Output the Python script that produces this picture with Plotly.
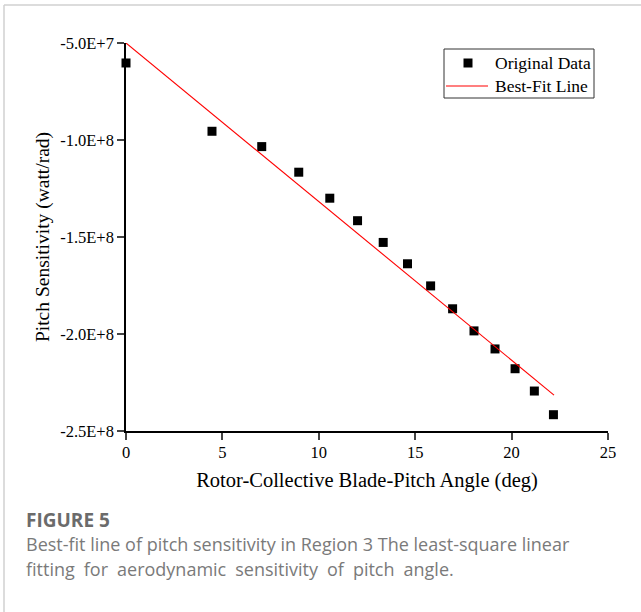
import plotly.graph_objects as go

# Data
pitch_deg = [0.0, 4.46, 7.04, 8.96, 10.57, 12.01, 13.34, 14.6, 15.8, 16.94, 18.05, 19.14, 20.18, 21.18, 22.17]
sensitivity = [-6.03e7, -9.55e7, -1.034e8, -1.166e8, -1.30e8, -1.416e8, -1.528e8, -1.638e8,
               -1.752e8, -1.870e8, -1.984e8, -2.077e8, -2.179e8, -2.294e8, -2.416e8]
fit_x = [0.0, 22.2]
fit_y = [-5.0e7, -2.315e8]

x_ticks = [0, 5, 10, 15, 20, 25]
y_ticks = [-5.0e7, -1.0e8, -1.5e8, -2.0e8, -2.5e8]
y_tick_text = ["-5.0E+7", "-1.0E+8", "-1.5E+8", "-2.0E+8", "-2.5E+8"]
legend_names = ["Original Data", "Best-Fit Line"]

W, H = 641, 612
L, R, T, B = 126, 33, 43, 181
pw, ph = W - L - R, H - T - B


def px(x):
    return (x - L) / pw


def py(y):
    return (H - B - y) / ph


serif = "Liberation Serif"

fig = go.Figure()
fig.add_trace(go.Scatter(x=pitch_deg, y=sensitivity, mode="markers", name=legend_names[0],
                         marker=dict(symbol="square", size=9, color="black"), cliponaxis=False,
                         showlegend=False))
fig.add_trace(go.Scatter(x=fit_x, y=fit_y, mode="lines", name=legend_names[1],
                         line=dict(color="red", width=1.1), cliponaxis=False, showlegend=False))

fig.update_layout(
    width=W, height=H,
    margin=dict(l=L, r=R, t=T, b=B, autoexpand=False),
    paper_bgcolor="white", plot_bgcolor="white",
    font=dict(family=serif, color="black", size=16),
    showlegend=False,
    xaxis=dict(range=[0, 25], tickvals=x_ticks, ticks="outside", ticklen=7, tickwidth=1.5,
               showline=True, linecolor="black", linewidth=1.5, showgrid=False, zeroline=False,
               tickfont=dict(family=serif, size=16.5), ticklabelstandoff=-2,
               title=dict(text="Rotor-Collective Blade-Pitch Angle (deg)",
                          font=dict(family=serif, size=20.5), standoff=12),
               automargin=False),
    yaxis=dict(range=[-2.5e8, -5.0e7], tickvals=y_ticks, ticktext=y_tick_text, ticks="outside",
               ticklen=7, tickwidth=1.5, showline=True, linecolor="black", linewidth=1.5,
               showgrid=False, zeroline=False, tickfont=dict(family=serif, size=16.5),
               title=dict(text="Pitch Sensitivity (watt/rad)",
                          font=dict(family=serif, size=19.5), standoff=5),
               automargin=False),
)

# legend drawn as a framed box
fig.add_shape(type="rect", xref="paper", yref="paper", x0=px(444), x1=px(594), y0=py(49), y1=py(98),
              line=dict(color="#333", width=1), fillcolor="white", layer="above")
fig.add_shape(type="rect", xref="paper", yref="paper", x0=px(463.5), x1=px(472.5), y0=py(58.5), y1=py(67.5),
              line=dict(width=0), fillcolor="black", layer="above")
fig.add_shape(type="line", xref="paper", yref="paper", x0=px(446), x1=px(488), y0=py(86), y1=py(86),
              line=dict(color="red", width=1.1), layer="above")
for name, ycen in zip(legend_names, [63, 86]):
    fig.add_annotation(xref="paper", yref="paper", x=px(493), y=py(ycen), xanchor="left", yanchor="middle",
                       text=name, showarrow=False, font=dict(family=serif, size=17.5, color="black"))

# card border (top and left)
fig.add_shape(type="line", xref="paper", yref="paper", x0=px(4), x1=px(W + 2), y0=py(5), y1=py(5),
              line=dict(color="#d0d0d0", width=1.5))
fig.add_shape(type="line", xref="paper", yref="paper", x0=px(4), x1=px(4), y0=py(5), y1=py(H + 2),
              line=dict(color="#d0d0d0", width=1.5))

cap_font = "Open Sans"
cap_x = 24
fig.add_annotation(xref="paper", yref="paper", x=px(cap_x), y=py(520), xanchor="left", yanchor="middle",
                   text="<b>FIGURE 5</b>", showarrow=False,
                   font=dict(family=cap_font, size=19, color="#6b6b6b"))
fig.add_annotation(xref="paper", yref="paper", x=px(cap_x), y=py(544), xanchor="left", yanchor="middle",
                   text="Best-fit line of pitch sensitivity in Region 3 The least-square linear",
                   showarrow=False, font=dict(family=cap_font, size=18, color="#7a7a7a"))
fig.add_annotation(xref="paper", yref="paper", x=px(cap_x), y=py(569), xanchor="left", yanchor="middle",
                   text="fitting\u2002for\u2002aerodynamic\u2002sensitivity\u2002of\u2002pitch\u2002angle.",
                   showarrow=False, font=dict(family=cap_font, size=18, color="#7a7a7a"))

fig.write_html("out.html")
